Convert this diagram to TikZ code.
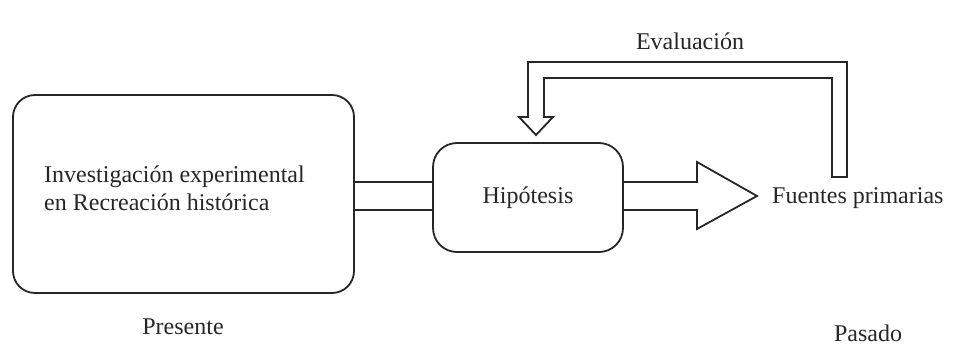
\documentclass[tikz,border=0pt]{standalone}
\usepackage{fontspec}
\setmainfont{Liberation Serif}
\begin{document}
\begin{tikzpicture}[x=1pt,y=-1pt,
  every node/.style={font=\fontsize{24}{28}\selectfont, text=black!85},
  boxst/.style={draw=black!85, line width=1.8pt, rounded corners=22pt, inner sep=0pt},
  fat/.style={draw=black!85, line width=1.8pt, line join=miter},
  lbl/.style={inner sep=0pt}]
\useasboundingbox (0,0) rectangle (956,348);
\node[boxst, minimum width=341pt, minimum height=198pt] (big) at (183.5,194) {};
\node[lbl, anchor=base west, align=left] (bigtxt) at (44,210) {Investigación experimental\\en Recreación histórica};
\node[boxst, rounded corners=24pt, minimum width=190pt, minimum height=109pt] (hip) at (528,197.5) {};
\node[lbl] (hiptxt) at (hip.center) {Hipótesis};
\node[lbl, anchor=base west] (fp) at (772,203) {Fuentes primarias};
\node[lbl] (ev) at (690,41) {Evaluación};
\node[lbl] (pres) at (183,327) {Presente};
\node[lbl] (pas) at (868,333) {Pasado};
% connector between boxes
\draw[fat] (big.east |- 0,182) -- (hip.west |- 0,182);
\draw[fat] (big.east |- 0,210) -- (hip.west |- 0,210);
% right fat arrow
\coordinate (tip) at (757,196);
\draw[fat] (hip.east |- 0,182) -- (697,182) -- (697,162) -- (tip) -- (697,229) -- (697,210) -- (hip.east |- 0,210);
% feedback fat arrow
\coordinate (fbtip) at (536,135);
\draw[fat] (832,177) -- (832,78) -- (544,78) -- (544,117) -- (553,117) -- (fbtip) -- (519,117) -- (528,117) -- (528,62) -- (847,62) -- (847,177) -- cycle;
\end{tikzpicture}
\end{document}
